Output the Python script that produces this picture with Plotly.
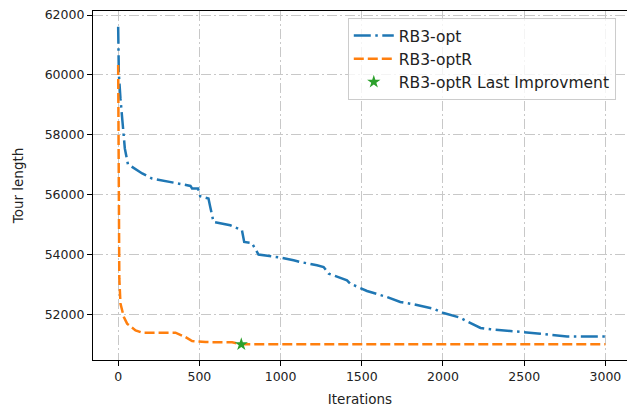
import plotly.graph_objects as go

# RB3-opt (blue, dash-dot)
opt_x = [0, 4, 14, 29, 41, 60, 107, 148, 209, 373, 445, 455, 492, 505, 556, 567, 587,
         690, 762, 776, 823, 864, 998, 1080, 1121, 1224, 1265, 1296, 1409, 1429, 1532,
         1655, 1737, 1819, 1942, 2004, 2106, 2148, 2231, 2292, 2497, 2600, 2764, 3000]
opt_y = [61610, 60050, 59214, 58378, 57542, 57017, 56840, 56706, 56538, 56371, 56291,
         56204, 56204, 55946, 55870, 55589, 55087, 54977, 54809, 54418, 54385, 53997,
         53896, 53806, 53750, 53639, 53582, 53361, 53137, 53027, 52780, 52579, 52412,
         52334, 52190, 52043, 51889, 51766, 51545, 51502, 51410, 51355, 51264, 51264]

# RB3-optR (orange, dashed)
optr_x = [0, 3, 7, 14, 35, 55, 107, 148, 353, 414, 455, 538, 702, 758, 3000]
optr_y = [60328, 55500, 53200, 52358, 51910, 51689, 51465, 51388, 51388, 51241,
          51107, 51074, 51064, 50997, 50997]

# Last improvement marker
last_x = [758]
last_y = [50997]

x_ticks = [0, 500, 1000, 1500, 2000, 2500, 3000]
y_ticks = [52000, 54000, 56000, 58000, 60000, 62000]

FONT = "DejaVu Sans"

fig = go.Figure()
fig.add_trace(go.Scatter(x=opt_x, y=opt_y, mode="lines", name="RB3-opt",
                         line=dict(color="#1f77b4", width=2.5,
                                   dash="17px,4.5px,2.5px,4.5px")))
fig.add_trace(go.Scatter(x=optr_x, y=optr_y, mode="lines", name="RB3-optR",
                         line=dict(color="#ff7f0e", width=2.5, dash="10px,4px")))
fig.add_trace(go.Scatter(x=last_x, y=last_y, mode="markers",
                         name="RB3-optR Last Improvment",
                         marker=dict(color="#2ca02c", symbol="star", size=10,
                                     line=dict(width=0))))

axis_common = dict(
    showline=True, linecolor="black", linewidth=1.2,
    ticks="outside", ticklen=5, tickwidth=1.2, tickcolor="black",
    showgrid=True, gridcolor="#c8c8c8", gridwidth=1.2,
    griddash="10px,3px,2px,3px",
    zeroline=False, automargin=False,
    tickformat="d",
    tickfont=dict(family=FONT, size=12.5, color="#222"),
)

fig.update_layout(
    width=627, height=410,
    margin=dict(l=93, r=0, t=11, b=50),
    plot_bgcolor="white", paper_bgcolor="white",
    font=dict(family=FONT, color="#222"),
    showlegend=True,
    legend=dict(x=0.979, y=0.98, xanchor="right", yanchor="top",
                bgcolor="rgba(255,255,255,0.8)", bordercolor="#cccccc",
                borderwidth=1, font=dict(family=FONT, size=15.5, color="#222"),
                tracegroupgap=0, itemwidth=40),
    xaxis=dict(axis_common, range=[-155, 3133], tickvals=x_ticks, mirror=True,
               title=dict(text="Iterations", font=dict(family=FONT, size=13.5),
                          standoff=11)),
    yaxis=dict(axis_common, range=[50475, 62134], tickvals=y_ticks,
               title=dict(text="Tour length", font=dict(family=FONT, size=13.5),
                          standoff=17)),
)

fig.write_html("out.html", config={"displayModeBar": False},
               post_script="document.body.style.margin='0';document.body.style.padding='0';")
